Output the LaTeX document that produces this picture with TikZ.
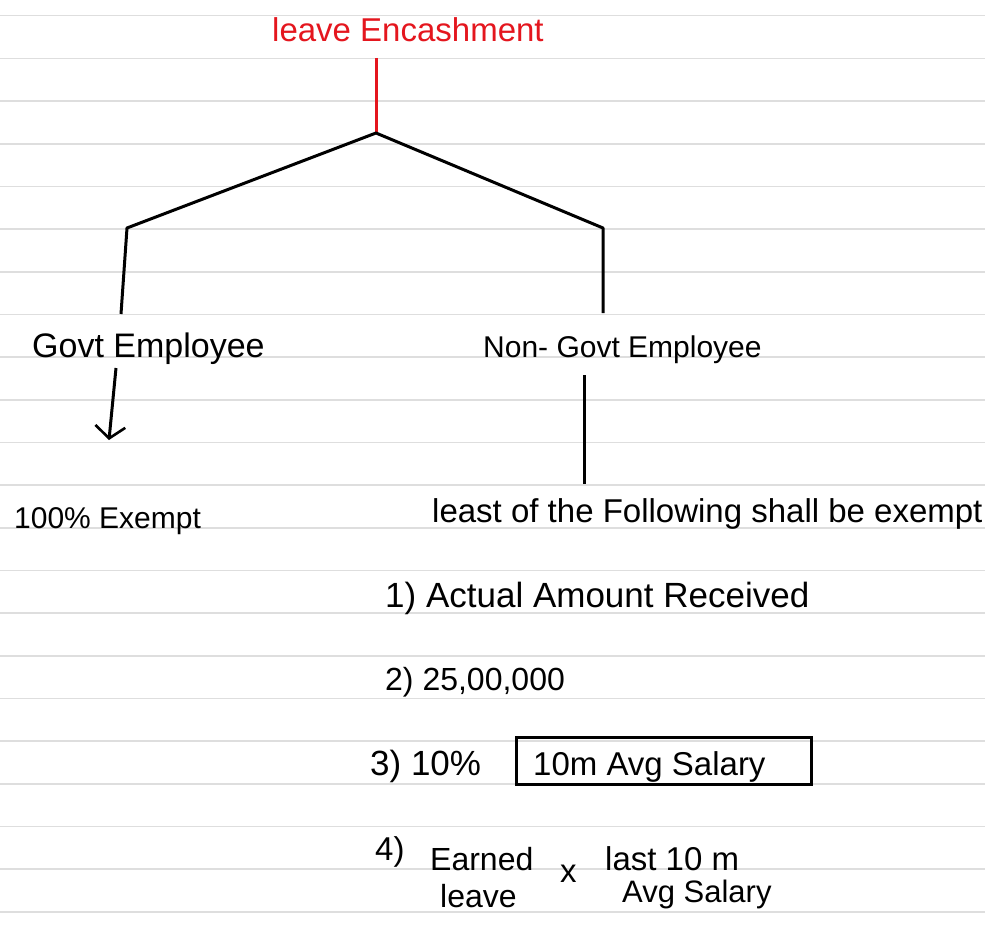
\documentclass[tikz,border=0pt]{standalone}
\usepackage{fontspec}
\setmainfont{Liberation Sans}
\usetikzlibrary{arrows.meta}
\definecolor{ruled}{RGB}{222,222,222}
\definecolor{inkred}{RGB}{228,22,30}
\tikzset{
  hand/.style={anchor=base west, inner sep=0pt, font=\fontsize{33}{38}\selectfont},
  ink/.style={line width=3pt, black},
  redink/.style={line width=3pt, inkred},
  rule/.style={line width=1.6pt, ruled},
  boxed/.style={line width=3pt, black}
}
\begin{document}
\begin{tikzpicture}[x=1pt,y=-1pt]
\useasboundingbox[fill=white] (0,0) rectangle (985,928);
% ruled paper
\foreach \k in {0,...,21}{
  \draw[rule] (0,{15.7+42.67*\k}) -- (985,{15.7+42.67*\k});
}
% texts
\node[hand, text=inkred] (title) at (272,42) {leave Encashment};
\node[hand, font=\fontsize{34}{38}\selectfont] (govt) at (32,357) {Govt Employee};
\node[hand, font=\fontsize{30}{36}\selectfont] (nongovt) at (483,357) {Non- Govt Employee};
\node[hand, font=\fontsize{30}{36}\selectfont] (exempt) at (14,528) {100\% Exempt};
\node[hand] (least) at (432,522) {least of the Following shall be exempt};
\node[hand, font=\fontsize{35}{40}\selectfont] (item1) at (385,607) {1) Actual Amount Received};
\node[hand, font=\fontsize{32}{38}\selectfont] (item2) at (385,690) {2) 25,00,000};
\node[hand, font=\fontsize{35}{40}\selectfont] (item3) at (370,775) {3) 10\%};
\node[hand] (boxtext) at (533,775) {10m Avg Salary};
\node[hand] (item4) at (375,860) {4)};
\node[hand, font=\fontsize{32}{38}\selectfont] (earned) at (430,870) {Earned};
\node[hand, font=\fontsize{32}{38}\selectfont] (leave) at (440,907) {leave};
\node[hand] (times) at (560,882) {x};
\node[hand] (last) at (605,870) {last 10 m};
\node[hand, font=\fontsize{31}{38}\selectfont] (avgsal) at (622,902) {Avg Salary};
% box around 10m Avg Salary
\coordinate (boxA) at (516,737);
\coordinate (boxB) at (811,784);
\draw[boxed] (boxA) rectangle (boxB);
% tree connectors
\coordinate (redtop) at (376,58);
\coordinate (junc) at (376,133);
\coordinate (lcorner) at (127,228);
\coordinate (rcorner) at (603,228);
\coordinate (lend) at (121,314);
\coordinate (rend) at (603,313);
\draw[redink] (redtop) -- (junc);
\draw[ink, line join=round] (lend) -- (lcorner) -- (junc) -- (rcorner) -- (rend);
% arrow under Govt Employee
\coordinate (arrS) at (116,368);
\coordinate (arrE) at (109,440);
\draw[ink, -{Straight Barb[length=12pt,width=30pt,line width=2.6pt]}] (arrS) -- (arrE);
% line under Non-Govt Employee
\coordinate (ngS) at (584,375);
\coordinate (ngE) at (584,484);
\draw[ink] (ngS) -- (ngE);
\end{tikzpicture}
\end{document}
